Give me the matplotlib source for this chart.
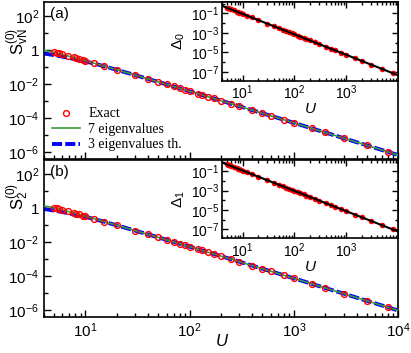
import numpy as np
import matplotlib
matplotlib.use('Agg')
import matplotlib.pyplot as plt
from matplotlib.ticker import LogLocator, FixedLocator, FuncFormatter, NullFormatter

plt.rcParams['font.family'] = 'Liberation Sans'
plt.rcParams['mathtext.fontset'] = 'custom'
plt.rcParams['mathtext.rm'] = 'Liberation Sans'
plt.rcParams['mathtext.it'] = 'Liberation Sans:italic'

# exact points
U_exact = [5, 5.3, 5.6, 6, 6.8, 7.7, 8.1, 8.7, 9.4, 10, 12, 15, 20, 30, 40, 50, 60, 70, 80, 90,
           100, 120, 130, 150, 170, 200, 250, 300, 400, 500, 600, 800, 1000, 1500, 2000, 3000, 5000, 8000]
S_vN_exact = [0.794, 0.724, 0.661, 0.582, 0.468, 0.380, 0.347, 0.309, 0.269, 0.240, 0.176, 0.119, 0.0717,
              0.0347, 0.0207, 0.0138, 0.00991, 0.00749, 0.00587, 0.00473, 0.00390, 0.00279, 0.00241,
              0.00185, 0.00147, 0.00109, 7.17e-4, 5.11e-4, 2.99e-4, 1.97e-4, 1.40e-4, 8.17e-5, 5.37e-5,
              2.50e-5, 1.45e-5, 6.75e-6, 2.56e-6, 1.05e-6]
S2_exact = [1.12, 1.02, 0.933, 0.822, 0.661, 0.537, 0.490, 0.436, 0.380, 0.339, 0.249, 0.168, 0.101,
            0.0490, 0.0292, 0.0195, 0.0140, 0.0106, 0.00829, 0.00668, 0.00551, 0.00394, 0.00340,
            0.00261, 0.00208, 0.00154, 1.01e-3, 7.22e-4, 4.22e-4, 2.78e-4, 1.98e-4, 1.15e-4, 7.59e-5,
            3.53e-5, 2.05e-5, 9.53e-6, 3.62e-6, 1.48e-6]

# approximations
U_line = [4, 5, 6, 7, 8, 10, 12, 15, 20, 30, 50, 70, 100, 150, 200, 300, 500, 700, 1000, 1500,
          2000, 3000, 5000, 7000, 10000]
S_vN_7eig = [0.98, 0.78, 0.58, 0.445, 0.355, 0.240, 0.176, 0.119, 0.0717, 0.0347, 0.0138, 0.00749,
             0.00390, 0.00185, 0.00109, 5.11e-4, 1.97e-4, 1.05e-4, 5.37e-5, 2.50e-5, 1.45e-5, 6.75e-6,
             2.56e-6, 1.35e-6, 6.84e-7]
S_vN_3eig = [0.65, 0.525, 0.43, 0.355, 0.30, 0.224, 0.17, 0.117, 0.0710, 0.0347, 0.0138, 0.00749,
             0.00390, 0.00185, 0.00109, 5.11e-4, 1.97e-4, 1.05e-4, 5.37e-5, 2.50e-5, 1.45e-5, 6.75e-6,
             2.56e-6, 1.35e-6, 6.84e-7]
S2_7eig = [1.38, 1.10, 0.82, 0.63, 0.50, 0.339, 0.249, 0.168, 0.101, 0.049, 0.0195, 0.0106, 0.00551,
           0.00261, 0.00154, 7.22e-4, 2.78e-4, 1.48e-4, 7.59e-5, 3.53e-5, 2.05e-5, 9.53e-6, 3.62e-6,
           1.91e-6, 9.67e-7]
S2_3eig = [0.92, 0.74, 0.61, 0.50, 0.42, 0.316, 0.24, 0.165, 0.100, 0.049, 0.0195, 0.0106, 0.00551,
           0.00261, 0.00154, 7.22e-4, 2.78e-4, 1.48e-4, 7.59e-5, 3.53e-5, 2.05e-5, 9.53e-6, 3.62e-6,
           1.91e-6, 9.67e-7]

# insets: gaps
D0_exact = [0.380, 0.337, 0.300, 0.259, 0.199, 0.154, 0.138, 0.119, 0.101, 0.0887, 0.0605, 0.0379,
            0.0207, 0.00883, 0.00483, 0.00302, 0.00206, 0.00149, 0.00113, 8.81e-4, 7.05e-4, 4.81e-4,
            4.06e-4, 3.01e-4, 2.32e-4, 1.64e-4, 1.03e-4, 7.02e-5, 3.84e-5, 2.40e-5, 1.64e-5, 8.95e-6,
            5.60e-6, 2.39e-6, 1.31e-6, 5.57e-7, 1.91e-7, 7.11e-8]
D1_exact = [0.513, 0.455, 0.405, 0.350, 0.269, 0.208, 0.186, 0.161, 0.136, 0.120, 0.0817, 0.0512,
            0.0279, 0.0119, 0.00652, 0.00408, 0.00278, 0.00201, 0.00153, 0.00119, 9.52e-4, 6.49e-4,
            5.48e-4, 4.06e-4, 3.13e-4, 2.21e-4, 1.39e-4, 9.48e-5, 5.18e-5, 3.24e-5, 2.21e-5, 1.21e-5,
            7.56e-6, 3.23e-6, 1.77e-6, 7.52e-7, 2.58e-7, 9.60e-8]
U_inset_line = [4, 10, 100, 1000, 10000]
D0_line = [0.608, 0.0887, 7.05e-4, 5.60e-6, 4.39e-8]
D1_line = [0.821, 0.120, 9.52e-4, 7.56e-6, 5.93e-8]


def pow_label(v, pos):
    e = int(round(np.log10(v)))
    if e == 0:
        return '1'
    return r'$\mathregular{10^{%d}}$' % e


def style_main(ax):
    ax.set_xscale('log')
    ax.set_yscale('log')
    ax.set_xlim(4, 1e4)
    ax.set_ylim(10**-6.4, 10**2.85)
    ax.yaxis.set_major_locator(FixedLocator([1e-6, 1e-4, 1e-2, 1, 1e2]))
    ax.yaxis.set_minor_locator(FixedLocator([1e-5, 1e-3, 1e-1, 1e1]))
    ax.yaxis.set_major_formatter(FuncFormatter(pow_label))
    ax.yaxis.set_minor_formatter(NullFormatter())
    ax.xaxis.set_major_locator(FixedLocator([10, 100, 1000, 1e4]))
    ax.xaxis.set_minor_locator(LogLocator(base=10, subs=np.arange(2, 10), numticks=20))
    ax.xaxis.set_major_formatter(FuncFormatter(pow_label))
    ax.xaxis.set_minor_formatter(NullFormatter())
    ax.tick_params(which='both', direction='in', labelsize=11, width=1.0)
    ax.tick_params(which='major', length=5)
    ax.tick_params(which='minor', length=3)
    for s in ax.spines.values():
        s.set_linewidth(1.2)


def style_inset(ax):
    ax.set_xscale('log')
    ax.set_yscale('log')
    ax.set_xlim(4, 1e4)
    ax.set_ylim(10**-7.95, 10**0.17)
    ax.yaxis.set_major_locator(FixedLocator([1e-7, 1e-5, 1e-3, 1e-1]))
    ax.yaxis.set_minor_locator(FixedLocator([1e-6, 1e-4, 1e-2, 1]))
    ax.yaxis.set_major_formatter(FuncFormatter(pow_label))
    ax.yaxis.set_minor_formatter(NullFormatter())
    ax.xaxis.set_major_locator(FixedLocator([10, 100, 1000]))
    ax.xaxis.set_minor_locator(LogLocator(base=10, subs=np.arange(2, 10), numticks=20))
    ax.xaxis.set_major_formatter(FuncFormatter(pow_label))
    ax.xaxis.set_minor_formatter(NullFormatter())
    ax.tick_params(which='both', direction='in', top=True, right=True, labelsize=10, width=1.0, pad=2)
    ax.tick_params(which='major', length=4)
    ax.tick_params(which='minor', length=2)
    ax.set_xlabel('U', fontstyle='italic', fontsize=11, labelpad=0)
    for s in ax.spines.values():
        s.set_linewidth(1.2)


fig = plt.figure(figsize=(4.11, 3.53), dpi=100)
ax1 = fig.add_axes([0.1071, 0.5496, 0.8613, 0.4448])
ax2 = fig.add_axes([0.1071, 0.1020, 0.8613, 0.4447])

panels = [(ax1, S_vN_exact, S_vN_7eig, S_vN_3eig, '(a)'),
          (ax2, S2_exact, S2_7eig, S2_3eig, '(b)')]
for ax, ex, s7, s3, tag in panels:
    ax.plot(U_line, s3, color='#0000ff', lw=2.8, dashes=(2.6, 0.8), label='3 eigenvalues th.', zorder=2)
    ax.plot(U_line, s7, color='#3a9a3a', lw=1.2, label='7 eigenvalues', zorder=3)
    ax.plot(U_exact, ex, 'o', mfc='none', mec='#ff0000', mew=1.0, ms=4.2, label='Exact', zorder=4)
    style_main(ax)
    ax.text(0.018, 0.925, tag, transform=ax.transAxes, fontsize=11, va='center')

ax1.tick_params(labelbottom=False)
fig.text(222 / 411, 1 - 342 / 353, 'U', fontstyle='italic', fontsize=12, ha='center', va='center')

h, l = ax1.get_legend_handles_labels()
ax1.legend(h[::-1], l[::-1], loc='lower left', bbox_to_anchor=(0.0, -0.005), frameon=False,
           prop={'family': 'Liberation Serif', 'size': 10}, handlelength=2.0,
           labelspacing=0.18, handletextpad=0.6, borderaxespad=0.2)

fig.text(18 / 411, 1 - 42 / 353, r'$\mathrm{S}_{\mathrm{vN}}^{(0)}$', rotation=90,
         ha='center', va='center', fontsize=12)
fig.text(18 / 411, 1 - 197 / 353, r'$\mathrm{S}_{2}^{(0)}$', rotation=90,
         ha='center', va='center', fontsize=12)

in1 = fig.add_axes([0.5401, 0.7705, 0.4282, 0.2238])
in2 = fig.add_axes([0.5401, 0.3244, 0.4282, 0.2223])
for ax, d, dl, lab in [(in1, D0_exact, D0_line, r'$\Delta_0$'), (in2, D1_exact, D1_line, r'$\Delta_1$')]:
    ax.plot(U_exact, d, 'o', color='#ff0000', ms=4, mew=0, zorder=2)
    ax.plot(U_inset_line, dl, color='black', lw=1.5, zorder=3)
    style_inset(ax)
    ax.set_ylabel(lab, fontsize=11, labelpad=3)

fig.savefig('out.png', dpi=100)
